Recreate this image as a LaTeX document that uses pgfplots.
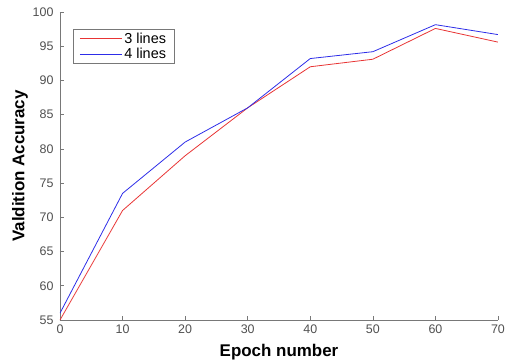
\documentclass[border=0pt]{standalone}
\usepackage{pgfplots}
\pgfplotsset{compat=1.18}
\usepackage{fontspec}
\setmainfont{Liberation Sans}
\definecolor{mred}{RGB}{232,52,52}
\definecolor{mblue}{RGB}{45,45,232}
\definecolor{axgray}{RGB}{120,120,120}
\definecolor{txtgray}{RGB}{80,80,80}
\begin{document}
\begin{tikzpicture}
\begin{axis}[
  scale only axis,
  width=438bp, height=308bp,
  xmin=0, xmax=70, ymin=55, ymax=100,
  xtick={0,10,...,70}, ytick={55,60,...,100},
  axis x line*=bottom, axis y line*=left,
  axis line style={axgray, line width=0.7pt},
  tick style={axgray, line width=0.7pt},
  tick align=inside,
  major tick length=4bp,
  ticklabel style={font=\fontsize{12.5}{14}\selectfont, text=txtgray},
  xticklabel style={yshift=-1bp},
  yticklabel style={xshift=-3bp},
  /pgf/number format/assume math mode=true,
  xlabel={\textbf{Epoch number}},
  ylabel={\textbf{Valdition Accuracy}},
  every axis x label/.style={at={(axis description cs:0.5,0)}, anchor=center, yshift=-32bp, font=\fontsize{17}{19}\selectfont},
  every axis y label/.style={at={(axis description cs:0,0.5)}, anchor=center, xshift=-40bp, rotate=90, font=\fontsize{17}{19}\selectfont},
  legend style={at={(0.03,0.945)}, anchor=north west, draw=axgray, line width=0.7pt,
    font=\fontsize{14.5}{16}\selectfont, inner xsep=6bp, inner ysep=2bp,
    nodes={inner ysep=1.6bp}},
  legend cell align=left,
  legend image code/.code={\draw[#1, line width=0.8pt] (0bp,0bp) -- (42bp,0bp);},
]
\addplot[mred, line width=0.8pt] coordinates {(0,55) (10,71) (20,79) (30,86) (40,92) (50,93.1) (60,97.6) (70,95.6)};
\addlegendentry{3 lines}
\addplot[mblue, line width=0.8pt] coordinates {(0,56) (10,73.5) (20,81) (30,86) (40,93.2) (50,94.2) (60,98.15) (70,96.7)};
\addlegendentry{4 lines}
\end{axis}
\pgfresetboundingbox
\useasboundingbox (-60bp,-40bp) rectangle (446bp,320bp);
\end{tikzpicture}
\end{document}
